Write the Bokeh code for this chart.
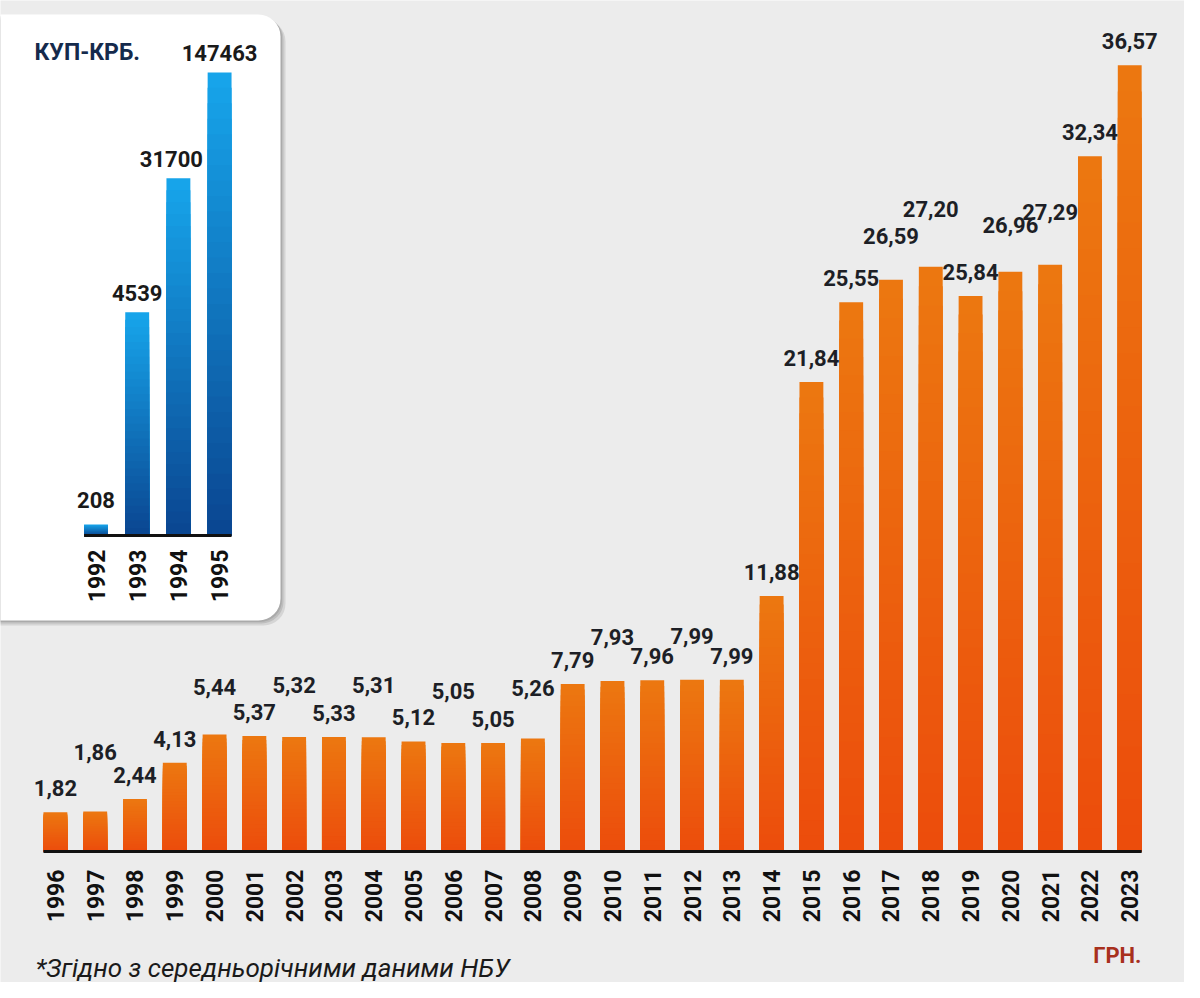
import math
from bokeh.plotting import figure
from bokeh.models import Range1d, LogScale, BoxAnnotation, ColumnDataSource
from bokeh.core.properties import value
from bokeh.embed import file_html
from bokeh.resources import INLINE

# ---------------- data ----------------
years = [str(y) for y in range(1996, 2024)]
rates = [1.82, 1.86, 2.44, 4.13, 5.44, 5.37, 5.32, 5.33, 5.31, 5.12, 5.05, 5.05,
         5.26, 7.79, 7.93, 7.96, 7.99, 7.99, 11.88, 21.84, 25.55, 26.59, 27.20,
         25.84, 26.96, 27.29, 32.34, 36.57]
inset_years = ["1992", "1993", "1994", "1995"]
inset_rates = [208, 4539, 31700, 147463]
inset_title = "КУП-КРБ."
unit_label = "ГРН."
footnote = "*Згідно з середньорічними даними НБУ"

# ---------------- layout / style ----------------
W, H, M = 1184, 982, 8
FONT = value("Roboto")
BG = "#ececec"
LABEL_COL = "#1d1f26"

PX = 39.79          # px per category (main)
BAR0 = 62.9         # page x of first main bar centre
PY = 21.5           # px per UAH
BASE = 859          # page y of main baseline
x_start = -(BAR0 - M) / PX
x_end = x_start + W / PX
y_end = (BASE - M) / PY
y_start = y_end - H / PY


def dx(px):
    return x_start + (px - M) / PX


def dy(py):
    return y_end - (py - M) / PY


IPX = 41.2          # px per category (inset)
IBAR0 = 103.5
IK = 158.6          # px per decade (inset, log)
IBASE = 543
IBASE_LOG = 2.249
ix_start = -(IBAR0 - M) / IPX
ix_end = ix_start + W / IPX
iy_hi = 10 ** (IBASE_LOG + (IBASE - M) / IK)
iy_lo = 10 ** (IBASE_LOG - (H - (IBASE - M)) / IK)
ibase_val = 10 ** IBASE_LOG

p = figure(width=W, height=H, output_backend="svg", toolbar_location=None,
           x_range=Range1d(x_start, x_end), y_range=Range1d(y_start, y_end),
           x_axis_location=None, y_axis_location=None, min_border=0)
p.extra_x_ranges = {"inset": Range1d(ix_start, ix_end)}
p.extra_y_ranges = {"inset": Range1d(iy_lo, iy_hi)}
p.extra_y_scales = {"inset": LogScale()}
p.background_fill_color = BG
p.border_fill_color = BG
p.outline_line_color = None
p.grid.visible = False


def hex2rgb(h):
    h = h.lstrip("#")
    return tuple(int(h[i:i + 2], 16) for i in (0, 2, 4))


def lerp(c0, c1, t):
    a, b = hex2rgb(c0), hex2rgb(c1)
    return "#%02x%02x%02x" % tuple(round(a[i] + (b[i] - a[i]) * t) for i in range(3))


N = 30
# ---- card with shadow ----
for off, alpha in ((5, 0.18), (3, 0.22), (1.5, 0.25)):
    p.add_layout(BoxAnnotation(left=dx(-30 + off), right=dx(288 + off), top=dy(22 + off),
                               bottom=dy(628 + off), fill_color="#6e6e6e", fill_alpha=alpha,
                               line_color=None, border_radius=22, level="underlay"))
p.add_layout(BoxAnnotation(left=dx(-30), right=dx(288), top=dy(22), bottom=dy(628),
                           fill_color="white", fill_alpha=1, line_color=None,
                           border_radius=22, level="underlay"))

# ---- main bars (gradient) ----
mb = dict(x=[], top=[], color=[])
for i, v in enumerate(rates):
    for k in reversed(range(N)):
        mb["x"].append(i)
        mb["top"].append(v * (k + 1) / N)
        mb["color"].append(lerp("#ec4c0c", "#ec7810", (k + 0.5) / N))
p.vbar(x="x", top="top", bottom=0, width=0.6, color="color", line_color=None,
       source=ColumnDataSource(mb))
p.line([-0.3, len(years) - 0.7], [0, 0], line_color="#111111", line_width=3)

raise_px = {"1997": 60, "2000": 48, "2002": 52, "2004": 52, "2006": 52, "2008": 50,
            "2010": 44, "2012": 44, "2017": 44, "2018": 58, "2020": 47, "2021": 53}
ml = ColumnDataSource(dict(
    x=list(range(len(years))), y=rates,
    text=[("%.2f" % v).replace(".", ",") for v in rates],
    yoff=[-raise_px.get(y, 24) for y in years]))
p.text(x="x", y="y", text="text", y_offset="yoff", source=ml, text_align="center",
       text_baseline="middle", text_font=FONT, text_font_style="bold",
       text_font_size="22px", text_color=LABEL_COL)
p.text(x=list(range(len(years))), y=[0] * len(years), text=years, angle=math.pi / 2,
       y_offset=18, text_align="right", text_baseline="middle", text_font=FONT,
       text_font_style="bold", text_font_size="23px", text_color="#111111")

# ---- inset bars (gradient, log scale) ----
ib = dict(x=[], top=[], color=[])
for i, v in enumerate(inset_rates):
    lv = math.log10(v)
    for k in reversed(range(N)):
        ib["x"].append(i)
        ib["top"].append(10 ** (IBASE_LOG + (lv - IBASE_LOG) * (k + 1) / N))
        ib["color"].append(lerp("#0a4590", "#17a6ec", (k + 0.5) / N))
p.vbar(x="x", top="top", bottom=ibase_val, width=0.58, color="color", line_color=None,
       source=ColumnDataSource(ib), x_range_name="inset", y_range_name="inset")
p.line([-0.29, len(inset_years) - 0.71], [ibase_val, ibase_val], line_color="#111111",
       line_width=3, x_range_name="inset", y_range_name="inset")
iraise = {"1992": 25}
ixoff = {"1994": -7}
il = ColumnDataSource(dict(
    x=list(range(len(inset_years))), y=inset_rates,
    text=[str(v) for v in inset_rates],
    yoff=[-iraise.get(y, 19) for y in inset_years],
    xoff=[ixoff.get(y, 0) for y in inset_years]))
p.text(x="x", y="y", text="text", y_offset="yoff", x_offset="xoff", source=il,
       text_align="center", text_baseline="middle", text_font=FONT,
       text_font_style="bold", text_font_size="22px", text_color="#1a1a1a",
       x_range_name="inset", y_range_name="inset")
p.text(x=list(range(len(inset_years))), y=[ibase_val] * len(inset_years), text=inset_years,
       angle=math.pi / 2, y_offset=14, text_align="right", text_baseline="middle",
       text_font=FONT, text_font_style="bold", text_font_size="23px",
       text_color="#111111", x_range_name="inset", y_range_name="inset")

# ---- titles ----
p.text(x=[dx(42)], y=[dy(60)], text=[inset_title], text_align="left",
       text_baseline="middle", text_font=FONT, text_font_style="bold",
       text_font_size="23px", text_color="#152a4c")
p.text(x=[dx(1149)], y=[dy(963)], text=[unit_label], text_align="right",
       text_baseline="middle", text_font=FONT, text_font_style="bold",
       text_font_size="22px", text_color="#a8301c")
p.text(x=[dx(43)], y=[dy(975)], text=[footnote], text_align="left",
       text_baseline="middle", text_font=FONT, text_font_style="italic",
       text_font_size="26px", text_color="#1a1a1a")

open("out.html", "w").write(file_html(p, INLINE))
